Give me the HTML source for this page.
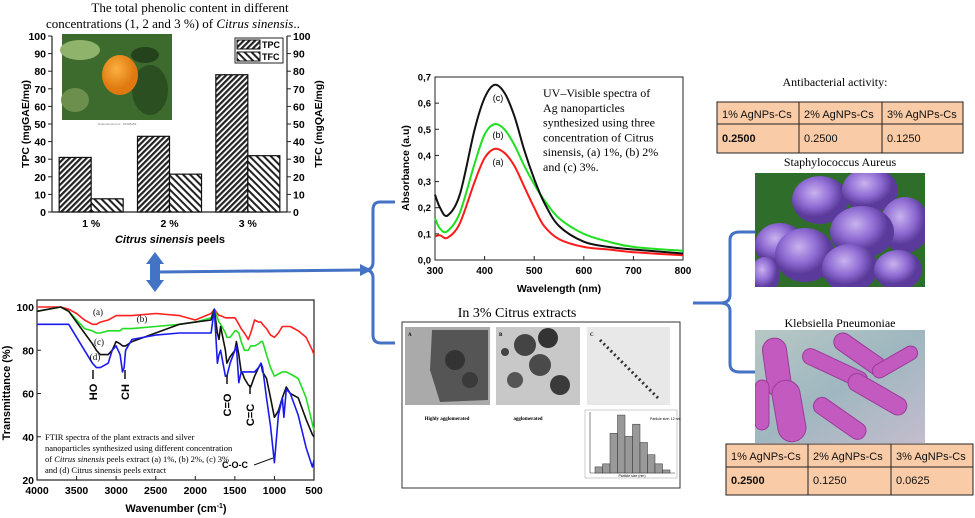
<!DOCTYPE html>
<html><head><meta charset="utf-8"><style>
body{margin:0;background:#fff}
svg{display:block}
.s{font-family:"Liberation Sans",sans-serif}
.r{font-family:"Liberation Serif",serif}
</style></head><body>
<svg id="root" width="975" height="518" viewBox="0 0 975 518" xmlns="http://www.w3.org/2000/svg">
<defs>
<pattern id="hatch1" width="4" height="4" patternUnits="userSpaceOnUse" patternTransform="rotate(45)"><rect width="4" height="4" fill="#fff"/><rect width="2.2" height="4" fill="#222"/></pattern>
<pattern id="hatch2" width="5" height="5" patternUnits="userSpaceOnUse" patternTransform="rotate(-45)"><rect width="5" height="5" fill="#fff"/><rect width="2" height="5" fill="#222"/></pattern>
<radialGradient id="orangeG" cx="40%" cy="35%"><stop offset="0" stop-color="#fbb040"/><stop offset="1" stop-color="#e07a10"/></radialGradient>
<radialGradient id="cocc" cx="40%" cy="35%"><stop offset="0" stop-color="#c9b3ef"/><stop offset="0.6" stop-color="#8e6bd3"/><stop offset="1" stop-color="#5a3a9a"/></radialGradient>
<linearGradient id="klebBg" x1="0" y1="0" x2="1" y2="1"><stop offset="0" stop-color="#b7c8c4"/><stop offset="0.5" stop-color="#9fb7c0"/><stop offset="1" stop-color="#c4bccd"/></linearGradient>
<clipPath id="clipStaph"><rect x="755" y="173" width="170" height="114"/></clipPath>
<clipPath id="clipKleb"><rect x="755" y="330" width="170" height="113"/></clipPath>
</defs>

<g id="bar-chart"></g>
<g id="ftir-chart"></g>
<g id="uv-chart"></g>

<g>
<text class="r" x="517" y="317" font-size="14" text-anchor="middle">In 3% Citrus extracts</text>
<rect x="402" y="322" width="278" height="166" fill="#fff" stroke="#333" stroke-width="1"/>
<rect x="405" y="327" width="85" height="78" fill="#aaa"/>
<path d="M432 330 L488 330 L488 400 L440 402 L430 370 Z" fill="#555"/>
<circle cx="455" cy="360" r="10" fill="#333"/><circle cx="470" cy="380" r="8" fill="#3a3a3a"/>
<rect x="496" y="327" width="84" height="78" fill="#c8c8c8"/>
<circle cx="525" cy="345" r="11" fill="#444"/><circle cx="548" cy="338" r="10" fill="#333"/><circle cx="540" cy="365" r="11" fill="#4a4a4a"/><circle cx="560" cy="385" r="10" fill="#3a3a3a"/><circle cx="515" cy="380" r="8" fill="#555"/><circle cx="505" cy="352" r="4" fill="#444"/>
<rect x="587" y="327" width="83" height="78" fill="#e8e8e8"/>
<path d="M600 340 L630 370 L660 400" stroke="#333" stroke-width="3" stroke-dasharray="2 3" fill="none"/>
<text class="r" x="408" y="336" font-size="5" font-weight="bold">A</text><text class="r" x="499" y="336" font-size="5" font-weight="bold">B</text><text class="r" x="590" y="336" font-size="5" font-weight="bold">C</text>
<text class="r" x="447" y="420" font-size="5" font-weight="bold" text-anchor="middle">Highly agglomerated</text>
<text class="r" x="528" y="420" font-size="5" font-weight="bold" text-anchor="middle">agglomerated</text>
<g id="hist"></g>
</g>

<g>
<text class="r" x="835" y="86" font-size="12" text-anchor="middle">Antibacterial activity:</text>
<g>
<rect x="717" y="102" width="246" height="51" fill="#f9cba6" stroke="#222" stroke-width="1"/>
<line x1="717" y1="124" x2="963" y2="124" stroke="#222"/><line x1="799" y1="102" x2="799" y2="153" stroke="#222"/><line x1="882" y1="102" x2="882" y2="153" stroke="#222"/>
<g class="s" font-size="11" fill="#111">
<text x="722" y="118">1% AgNPs-Cs</text><text x="804" y="118">2% AgNPs-Cs</text><text x="887" y="118">3% AgNPs-Cs</text>
<text x="722" y="142" font-weight="bold">0.2500</text><text x="804" y="142">0.2500</text><text x="887" y="142">0.1250</text></g>
</g>
<text class="r" x="840" y="166" font-size="12" text-anchor="middle">Staphylococcus Aureus</text>
<g clip-path="url(#clipStaph)">
<rect x="755" y="173" width="170" height="114" fill="#2f6d2a"/>
<ellipse cx="820" cy="200" rx="28" ry="24" fill="url(#cocc)"/><ellipse cx="870" cy="190" rx="28" ry="22" fill="url(#cocc)"/><ellipse cx="905" cy="225" rx="25" ry="28" fill="url(#cocc)"/>
<ellipse cx="862" cy="232" rx="32" ry="26" fill="url(#cocc)"/><ellipse cx="780" cy="245" rx="25" ry="22" fill="url(#cocc)"/>
<ellipse cx="805" cy="255" rx="30" ry="27" fill="url(#cocc)"/><ellipse cx="850" cy="268" rx="28" ry="24" fill="url(#cocc)"/><ellipse cx="898" cy="270" rx="24" ry="20" fill="url(#cocc)"/><ellipse cx="765" cy="275" rx="15" ry="18" fill="url(#cocc)"/>
</g>
<text class="r" x="840" y="327" font-size="12" text-anchor="middle">Klebsiella Pneumoniae</text>
<g clip-path="url(#clipKleb)">
<rect x="755" y="330" width="170" height="113" fill="url(#klebBg)"/>
<g fill="#c25ac0" stroke="#9a3c99" stroke-width="1">
<rect x="765" y="338" width="24" height="60" rx="12" transform="rotate(-8 777 368)"/>
<rect x="775" y="380" width="28" height="62" rx="14" transform="rotate(-10 789 411)"/>
<rect x="800" y="360" width="70" height="16" rx="8" transform="rotate(25 835 368)"/>
<rect x="830" y="345" width="60" height="18" rx="9" transform="rotate(35 860 354)"/>
<rect x="845" y="385" width="65" height="18" rx="9" transform="rotate(30 877 394)"/>
<rect x="810" y="410" width="60" height="17" rx="8" transform="rotate(35 840 418)"/>
<rect x="870" y="355" width="50" height="14" rx="7" transform="rotate(-30 895 362)"/>
<rect x="755" y="380" width="14" height="50" rx="7"/>
</g></g>
<g>
<rect x="726" y="444" width="247" height="51" fill="#f9cba6" stroke="#222" stroke-width="1"/>
<line x1="726" y1="467" x2="973" y2="467" stroke="#222"/><line x1="808" y1="444" x2="808" y2="495" stroke="#222"/><line x1="891" y1="444" x2="891" y2="495" stroke="#222"/>
<g class="s" font-size="11" fill="#111">
<text x="731" y="460">1% AgNPs-Cs</text><text x="813" y="460">2% AgNPs-Cs</text><text x="896" y="460">3% AgNPs-Cs</text>
<text x="731" y="484" font-weight="bold">0.2500</text><text x="813" y="484">0.1250</text><text x="896" y="484">0.0625</text></g>
</g>
</g>

<g fill="none" stroke="#4472c4" stroke-width="3">
<path d="M395 202 L380 202 Q373 202 373 210 L373 262 Q373 270 365 270 Q373 270 373 278 L373 335 Q373 343 381 343 L395 343"/>
<line x1="160" y1="272" x2="362" y2="270"/>
<path d="M755 232 L740 232 Q730 232 730 240 L730 295 Q730 303 720 303 L693 303 M720 303 Q730 303 730 311 L730 364 Q730 372 740 372 L755 372"/>
</g>
<polygon points="150,262 160,262 160,282 150,282" fill="#4472c4"/>
<polygon points="155,252 146,264 164,264" fill="#4472c4"/>
<polygon points="155,292 146,280 164,280" fill="#4472c4"/>
<polygon points="372,270 360,264 360,276" fill="#4472c4"/>
</svg>

<script>
const barCategories = ["1 %", "2 %", "3 %"];
const tpcValues = [31, 43, 78];
const tfcValues = [7.5, 21.5, 32];
const barTicks = [0,10,20,30,40,50,60,70,80,90,100];

const ftirWave = [4000,3700,3600,3500,3400,3300,3250,3200,3100,3050,3000,2950,2920,2900,2880,2800,2500,2200,2000,1800,1760,1720,1700,1680,1620,1600,1560,1500,1480,1450,1420,1400,1380,1330,1300,1250,1200,1170,1150,1100,1050,1000,950,900,880,850,800,700,600,520,500];
const ftirA = [100,100,99,97,94,92,92,93,94,95,96,96,96,96,96,96,97,96,94,97,99,97,96,96,95,95,95,95,94,92,90,89,88,85,88,94,93,93,92,90,87,86,88,91,91,91,91,89,86,80,78];
const ftirB = [98,100,98,94,90,89,88,88,89,89,89,89,90,90,90,90,91,92,93,95,99,95,93,92,88,86,86,89,89,88,84,82,80,80,82,82,83,84,84,78,72,68,69,70,70,70,69,67,58,46,43];
const ftirC = [98,100,98,93,88,83,80,78,78,80,84,83,82,82,82,84,88,92,93,94,99,88,85,91,80,74,77,80,84,78,70,69,67,64,63,68,72,74,70,67,58,49,52,58,60,63,60,58,48,41,40];
const ftirD = [92,92,92,86,80,74,72,72,74,80,82,78,70,72,80,85,87,88,88,88,99,74,78,80,68,68,74,80,82,65,70,70,70,70,70,70,72,74,72,58,45,28,50,58,49,62,60,50,35,26,29];
const ftirTicksX = [4000,3500,3000,2500,2000,1500,1000,500];
const ftirTicksY = [20,40,60,80,100];

const uvWave = [300,310,325,350,380,400,420,440,460,480,500,520,550,600,650,700,800];
const uvA = [0.09,0.095,0.085,0.14,0.30,0.39,0.425,0.41,0.36,0.28,0.20,0.13,0.08,0.05,0.04,0.03,0.018];
const uvB = [0.16,0.12,0.11,0.18,0.37,0.48,0.52,0.50,0.44,0.36,0.29,0.23,0.16,0.10,0.07,0.05,0.035];
const uvC = [0.25,0.20,0.17,0.25,0.50,0.62,0.67,0.64,0.55,0.42,0.31,0.22,0.13,0.07,0.05,0.04,0.025];
const uvTicksX = [300,400,500,600,700,800];
const uvTicksY = ["0,0","0,1","0,2","0,3","0,4","0,5","0,6","0,7"];

const histCounts = [2,3,13,19,12,16,10,6,3,1];

const NS = "http://www.w3.org/2000/svg";
function mk(parent, tag, attrs, txt){
  const e = document.createElementNS(NS, tag);
  for (const k in attrs) e.setAttribute(k, attrs[k]);
  if (txt !== undefined) e.textContent = txt;
  parent.appendChild(e);
  return e;
}

(function(){
  const g = document.getElementById("bar-chart");
  const L=52, R=287, T=36, B=212;
  const y = v => B - (v/100)*(B-T);
  let t = mk(g,"text",{x:190,y:12,"font-size":13,"text-anchor":"middle","class":"r"},"The   total   phenolic   content   in   different");
  
  
  t = mk(g,"text",{x:46,y:28,"font-size":13,"class":"r"});
  t.innerHTML = 'concentrations (1, 2 and 3 %) of <tspan font-style="italic">Citrus sinensis</tspan>..';
  
  
  const ph = mk(g,"g",{});
  
  
  mk(ph,"rect",{x:62,y:34,width:110,height:86,fill:"#3d6b2e"});
  mk(ph,"ellipse",{cx:80,cy:50,rx:20,ry:10,fill:"#8fb36a"});
  mk(ph,"ellipse",{cx:150,cy:90,rx:18,ry:25,fill:"#2c4f22"});
  mk(ph,"ellipse",{cx:75,cy:100,rx:14,ry:12,fill:"#6c8f4e"});
  mk(ph,"ellipse",{cx:120,cy:75,rx:18,ry:20,fill:"url(#orangeG)"});
  mk(ph,"ellipse",{cx:145,cy:55,rx:14,ry:8,fill:"#24421c"});
  mk(ph,"rect",{x:62,y:120,width:110,height:6,fill:"#fff"});
  mk(ph,"text",{x:117,y:125,"font-size":3,"text-anchor":"middle",fill:"#777","class":"s"},"shutterstock.com · 84498259");
  const ax = mk(g,"g",{});
  
  
  mk(ax,"line",{x1:L,y1:T,x2:L,y2:B,stroke:"#222","stroke-width":1.2});
  mk(ax,"line",{x1:R,y1:T,x2:R,y2:B,stroke:"#222","stroke-width":1.2});
  mk(ax,"line",{x1:L,y1:B,x2:R,y2:B,stroke:"#222","stroke-width":1.2});
  barTicks.forEach(v=>{
    mk(ax,"line",{x1:L-4,y1:y(v),x2:L,y2:y(v),stroke:"#222"});
    mk(ax,"line",{x1:R,y1:y(v),x2:R+4,y2:y(v),stroke:"#222"});
    const a = mk(ax,"text",{x:L-6,y:y(v)+4,"font-size":10.5,"font-weight":"bold","text-anchor":"end","class":"s"},v);
    
    
    const b = mk(ax,"text",{x:R+6,y:y(v)+4,"font-size":10.5,"font-weight":"bold","class":"s"},v);
    
    
  });
  const groupW = (R-L)/barCategories.length;
  barCategories.forEach((c,i)=>{
    const cx = L + groupW*(i+0.5);
    const w = 32;
    const r1 = mk(g,"rect",{x:cx-w,y:y(tpcValues[i]),width:w,height:B-y(tpcValues[i]),fill:"url(#hatch1)",stroke:"#111","stroke-width":1.2});
    
    
    const r2 = mk(g,"rect",{x:cx,y:y(tfcValues[i]),width:w,height:B-y(tfcValues[i]),fill:"url(#hatch2)",stroke:"#111","stroke-width":1.2});
    
    
    const tl = mk(g,"text",{x:cx,y:227,"font-size":10.5,"font-weight":"bold","text-anchor":"middle","class":"s"},c);
    
    
  });
  let xt = mk(g,"text",{x:170,y:243,"font-size":11,"font-weight":"bold","text-anchor":"middle","class":"s"});
  xt.innerHTML='<tspan font-style="italic">Citrus sinensis</tspan> peels';
  
  
  let yl = mk(g,"text",{x:0,y:0,"font-size":10.5,"font-weight":"bold","text-anchor":"middle","class":"s",transform:"translate(29 124) rotate(-90)"},"TPC (mgGAE/mg)");
  
  
  let yr = mk(g,"text",{x:0,y:0,"font-size":10.5,"font-weight":"bold","text-anchor":"middle","class":"s",transform:"translate(322 124) rotate(-90)"},"TFC (mgQAE/mg)");
  
  
  const lg = mk(g,"g",{});
  
  
  mk(lg,"rect",{x:235,y:38,width:48,height:25,fill:"#fff",stroke:"#222"});
  mk(lg,"rect",{x:237,y:40,width:23,height:9,fill:"url(#hatch1)",stroke:"#111"});
  mk(lg,"text",{x:262,y:48,"font-size":9,"font-weight":"bold","class":"s"},"TPC");
  mk(lg,"rect",{x:237,y:52,width:23,height:9,fill:"url(#hatch2)",stroke:"#111"});
  mk(lg,"text",{x:262,y:60,"font-size":9,"font-weight":"bold","class":"s"},"TFC");
})();

(function(){
  const g = document.getElementById("ftir-chart");
  const L=37, R=314, T=300, B=480;
  const x = w => L + (4000-w)/3500*(R-L);
  const y = v => B - (v-20)/80*(B-307);
  mk(g,"rect",{x:L,y:T,width:R-L,height:B-T,fill:"none",stroke:"#222","stroke-width":1.2});
  ftirTicksX.forEach(w=>{
    mk(g,"line",{x1:x(w),y1:B,x2:x(w),y2:B-4,stroke:"#222"});
    const t = mk(g,"text",{x:x(w),y:494,"font-size":10.5,"font-weight":"bold","text-anchor":"middle","class":"s"},w);
    
    
  });
  ftirTicksY.forEach(v=>{
    mk(g,"line",{x1:L,y1:y(v),x2:L+4,y2:y(v),stroke:"#222"});
    const t = mk(g,"text",{x:L-3,y:y(v)+4,"font-size":10.5,"font-weight":"bold","text-anchor":"end","class":"s"},v);
    
    
  });
  const series = [[ftirA,"#ff2020","ftir-line-a"],[ftirB,"#22dd22","ftir-line-b"],[ftirC,"#111","ftir-line-c"],[ftirD,"#1a1aee","ftir-line-d"]];
  series.forEach(([vals,col,name])=>{
    const d = vals.map((v,i)=>(i?"L":"M")+x(ftirWave[i]).toFixed(1)+" "+y(v).toFixed(1)).join(" ");
    const p = mk(g,"path",{d:d,fill:"none",stroke:col,"stroke-width":1.6,"stroke-linejoin":"round"});
    
    
  });
  const lab = [["(a)",98,315],["(b)",142,322],["(c)",99,345],["(d)",95,360]];
  lab.forEach(([s,xx,yy])=>{
    const t = mk(g,"text",{x:xx,y:yy,"font-size":9,"text-anchor":"middle","class":"r"},s);
    
    
  });
  const ann = [["HO",93,370,"translate(97 392) rotate(-90)"],["CH",125,370,"translate(129 392) rotate(-90)"],["C=O",227,375,"translate(231 405) rotate(-90)"],["C=C",250,385,"translate(254 415) rotate(-90)"]];
  ann.forEach(([s,xx,yy,tr])=>{
    mk(g,"line",{x1:xx,y1:yy,x2:xx,y2:yy+9,stroke:"#111","stroke-width":1.5});
    const t = mk(g,"text",{x:0,y:0,"font-size":11,"font-weight":"bold","text-anchor":"middle","class":"s",transform:tr},s);
    
    
  });
  mk(g,"line",{x1:254,y1:465,x2:273,y2:458,stroke:"#111","stroke-width":1});
  let c = mk(g,"text",{x:222,y:468,"font-size":9,"font-weight":"bold","class":"s"},"C-O-C");
  
  
  const cap = mk(g,"text",{x:45,y:440,"font-size":8.5,"class":"r"});
  cap.innerHTML = '<tspan x="45" dy="0">FTIR  spectra of the plant extracts and silver</tspan><tspan x="45" dy="11">nanoparticles synthesized using different concentration</tspan><tspan x="45" dy="11">of <tspan font-style="italic">Citrus sinensis</tspan> peels extract (a) 1%, (b) 2%, (c) 3%</tspan><tspan x="45" dy="11">and  (d) Citrus sinensis peels extract</tspan>';
  
  
  let xt = mk(g,"text",{x:176,y:512,"font-size":11,"font-weight":"bold","text-anchor":"middle","class":"s"});
  xt.innerHTML = 'Wavenumber (cm<tspan dy="-4" font-size="7">-1</tspan><tspan dy="4">)</tspan>';
  
  
  let yt = mk(g,"text",{x:0,y:0,"font-size":11,"font-weight":"bold","text-anchor":"middle","class":"s",transform:"translate(10 393) rotate(-90)"},"Transmittance (%)");
  
  
})();

(function(){
  const g = document.getElementById("uv-chart");
  const L=435, R=683, T=77, B=260;
  const x = w => L + (w-300)/500*(R-L);
  const y = v => B - v/0.7*(B-T);
  mk(g,"rect",{x:L,y:T,width:R-L,height:B-T,fill:"none",stroke:"#222","stroke-width":1});
  uvTicksX.forEach(w=>{
    mk(g,"line",{x1:x(w),y1:B,x2:x(w),y2:B-4,stroke:"#222"});
    const t = mk(g,"text",{x:x(w),y:274,"font-size":10,"font-weight":"bold","text-anchor":"middle","class":"s"},w);
    
    
  });
  uvTicksY.forEach((s,i)=>{
    const v = i*0.1;
    mk(g,"line",{x1:L,y1:y(v),x2:L+4,y2:y(v),stroke:"#222"});
    const t = mk(g,"text",{x:L-4,y:y(v)+3.5,"font-size":9.5,"font-weight":"bold","text-anchor":"end","class":"s"},s);
    
    
  });
  function smooth(xs, ys){
    const pts = xs.map((w,i)=>[x(w),y(ys[i])]);
    let d = "M"+pts[0][0].toFixed(1)+" "+pts[0][1].toFixed(1);
    for(let i=0;i<pts.length-1;i++){
      const p0=pts[Math.max(0,i-1)],p1=pts[i],p2=pts[i+1],p3=pts[Math.min(pts.length-1,i+2)];
      const c1=[p1[0]+(p2[0]-p0[0])/6,p1[1]+(p2[1]-p0[1])/6];
      const c2=[p2[0]-(p3[0]-p1[0])/6,p2[1]-(p3[1]-p1[1])/6];
      d+=" C"+c1[0].toFixed(1)+" "+c1[1].toFixed(1)+" "+c2[0].toFixed(1)+" "+c2[1].toFixed(1)+" "+p2[0].toFixed(1)+" "+p2[1].toFixed(1);
    }
    return d;
  }
  [[uvA,"#ff1a1a","uv-line-a"],[uvB,"#1ee01e","uv-line-b"],[uvC,"#111","uv-line-c"]].forEach(([vals,col,name])=>{
    const p = mk(g,"path",{d:smooth(uvWave,vals),fill:"none",stroke:col,"stroke-width":2});
    
    
  });
  [["(c)",498,101],["(b)",498,138],["(a)",498,165]].forEach(([s,xx,yy])=>{
    const t = mk(g,"text",{x:xx,y:yy,"font-size":9,"text-anchor":"middle","class":"s"},s);
    
    
  });
  const cap = mk(g,"text",{x:543,y:97,"font-size":12,"class":"r"});
  cap.innerHTML = '<tspan x="543" dy="0">UV\u2013Visible spectra of</tspan><tspan x="543" dy="14.8">Ag nanoparticles</tspan><tspan x="543" dy="14.8">synthesized using three</tspan><tspan x="543" dy="14.8">concentration of Citrus</tspan><tspan x="543" dy="14.8">sinensis, (a) 1%, (b) 2%</tspan><tspan x="543" dy="14.8">and (c) 3%.</tspan>';
  
  
  const xt = mk(g,"text",{x:559,y:292,"font-size":10.5,"font-weight":"bold","text-anchor":"middle","class":"s"},"Wavelength (nm)");
  
  
  const yt = mk(g,"text",{x:0,y:0,"font-size":10.5,"font-weight":"bold","text-anchor":"middle","class":"s",transform:"translate(409 168) rotate(-90)"},"Absorbance (a.u)");
  
  
})();

(function(){
  const g = document.getElementById("hist");
  const L=590, R=675, T=412, B=473;
  mk(g,"rect",{x:585,y:410,width:92,height:68,fill:"#fff",stroke:"#999","stroke-width":0.5});
  mk(g,"line",{x1:L,y1:T,x2:L,y2:B,stroke:"#333","stroke-width":0.6});
  mk(g,"line",{x1:L,y1:B,x2:R,y2:B,stroke:"#333","stroke-width":0.6});
  const bw = (R-L-10)/histCounts.length;
  histCounts.forEach((c,i)=>{
    const h = c/20*(B-T);
    const r = mk(g,"rect",{x:L+5+i*bw,y:B-h,width:bw,height:h,fill:"#999",stroke:"#333","stroke-width":0.5});
    
    
  });
  mk(g,"text",{x:650,y:420,"font-size":3.5,"class":"s"},"Particle size: 12 nm");
  mk(g,"text",{x:632,y:477,"font-size":3.5,"text-anchor":"middle","class":"s"},"Particle size (nm)");
})();
</script>
</body></html>
